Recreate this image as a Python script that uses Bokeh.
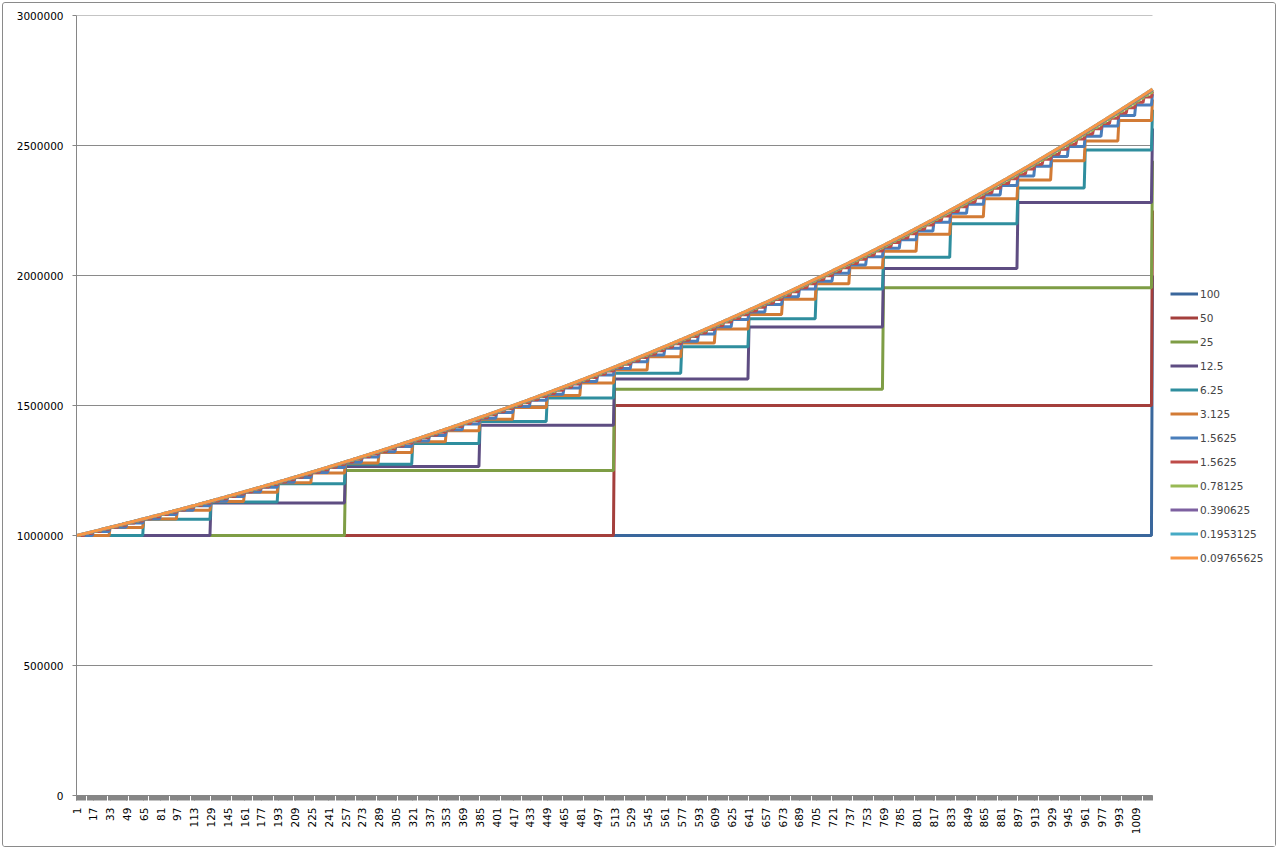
import numpy as np
from bokeh.plotting import figure
from bokeh.models import FixedTicker, Legend, LegendItem, BasicTickFormatter, Range1d
from bokeh.embed import file_html
from bokeh.resources import INLINE

# ---------------- data ----------------
principal = 1000000
categories = list(range(1, 1026))          # category axis 1 .. 1025
series_labels = ["100", "50", "25", "12.5", "6.25", "3.125", "1.5625", "1.5625",
                 "0.78125", "0.390625", "0.1953125", "0.09765625"]
# length (in categories) of one compounding period for each series
period_lengths = [1024, 512, 256, 128, 64, 32, 16, 8, 4, 2, 1, 1]
series_colors = ["#3A679C", "#A43F3C", "#7E9D45", "#5E4D82", "#2F8E9E", "#D27B35",
                 "#4A7EBB", "#BE4B48", "#98B954", "#7D60A0", "#46AAC5", "#F79646"]
x_tick_labels = list(range(1, 1010, 16))
y_ticks = [0, 500000, 1000000, 1500000, 2000000, 2500000, 3000000]

FONT = "DejaVu Sans"
W, H = 1274, 845
LEFT, RIGHT, TOP, BOTTOM = 73, 7, 12, 53
frame_w = W - LEFT - RIGHT
plot_px = 1076.0                      # pixel width of the category area
x_first, x_last = categories[0], categories[-1]
x_end = x_first + (x_last - x_first) * frame_w / plot_px   # room on the right for the legend

p = figure(width=W, height=H, output_backend="svg", toolbar_location=None,
           x_range=Range1d(x_first, x_end), y_range=Range1d(0, 3000000),
           min_border_left=LEFT, min_border_right=RIGHT, min_border_top=TOP,
           min_border_bottom=BOTTOM)
p.styles = {"border": "1px solid #8a8a8a", "border-radius": "3px",
            "margin-left": "2px", "margin-top": "2px"}
p.outline_line_color = None
p.background_fill_color = "white"
p.border_fill_color = "white"

# horizontal gridlines limited to the category area
p.xgrid.visible = False
p.ygrid.visible = False
p.segment(x0=[x_first] * len(y_ticks), x1=[x_last] * len(y_ticks), y0=y_ticks, y1=y_ticks,
          line_color="#8a8a8a", line_width=1)

x = np.array(categories)
items = []
for lab, L, col in zip(series_labels, period_lengths, series_colors):
    growth = 1 + L / 1024.0
    vals = principal * growth ** ((x - 1) // L)
    r = p.line(x, vals, line_color=col, line_width=3)
    items.append(LegendItem(label=lab, renderers=[r]))

# axes
p.yaxis.ticker = FixedTicker(ticks=y_ticks)
p.yaxis.formatter = BasicTickFormatter(use_scientific=False)
p.yaxis.axis_line_color = "#868686"
p.yaxis.major_tick_line_color = "#868686"
p.yaxis.major_tick_out = 4
p.yaxis.major_tick_in = 0
p.yaxis.minor_tick_line_color = None
p.yaxis.major_label_standoff = 9
p.yaxis.major_label_text_font = FONT
p.yaxis.major_label_text_font_size = "10.5px"
p.yaxis.major_label_text_color = "black"

p.xaxis.ticker = FixedTicker(ticks=x_tick_labels, minor_ticks=categories)
p.xaxis.bounds = (x_first, x_last)
p.xaxis.axis_line_color = "#868686"
p.xaxis.major_tick_line_color = "#868686"
p.xaxis.minor_tick_line_color = "#868686"
p.xaxis.major_tick_out = 5
p.xaxis.major_tick_in = 0
p.xaxis.minor_tick_out = 5
p.xaxis.minor_tick_in = 0
p.xaxis.major_label_orientation = np.pi / 2
p.xaxis.major_label_standoff = 7
p.xaxis.major_label_text_font = FONT
p.xaxis.major_label_text_font_size = "10.5px"
p.xaxis.major_label_text_color = "black"

legend = Legend(items=items, location=(1094, 227), orientation="vertical",
                glyph_width=28, glyph_height=21, label_height=21, spacing=3,
                label_standoff=2, padding=0, margin=0,
                label_text_font=FONT, label_text_font_size="10.5px",
                border_line_color=None, background_fill_alpha=0)
p.add_layout(legend)

open("out.html", "w").write(file_html(p, INLINE))
